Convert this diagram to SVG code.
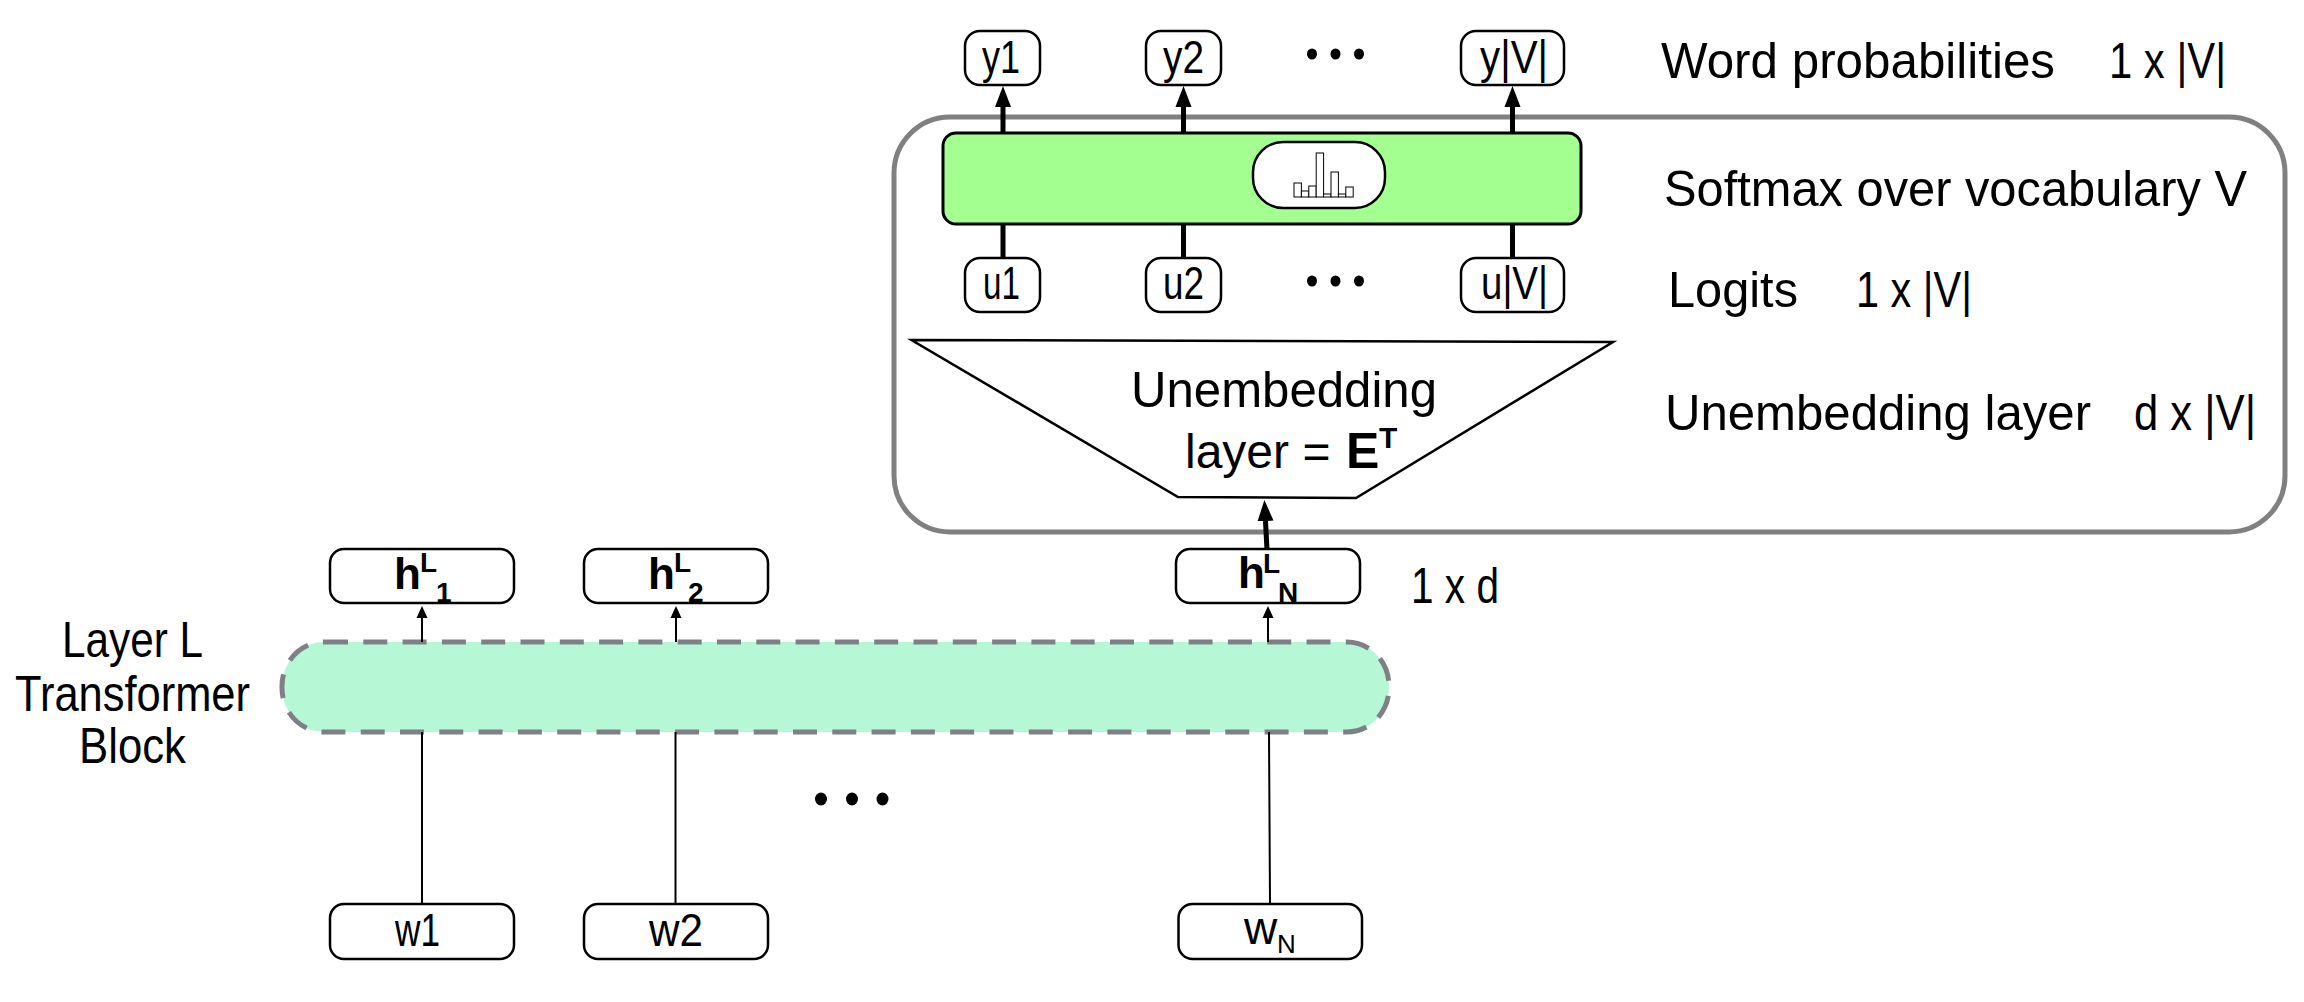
<svg xmlns="http://www.w3.org/2000/svg" width="2304" height="1002" viewBox="0 0 2304 1002">
<style>
text{font-family:"Liberation Sans",Arial,sans-serif;fill:#000;font-size:50px}
.b{fill:#fff;stroke:#000;stroke-width:2.5}
.bold{font-weight:bold}
.s{font-size:28px;font-weight:bold}
.box{font-size:46px}
.c{fill:none;stroke:#000;stroke-width:5}
.t{fill:none;stroke:#000;stroke-width:2}
.bar{fill:#fff;stroke:#000;stroke-width:1}
</style>
<defs>
<marker id="big" markerUnits="userSpaceOnUse" markerWidth="22" markerHeight="18" refX="0" refY="8" orient="auto" viewBox="0 0 22 16"><path d="M0,0L21,8L0,16z" fill="#000"/></marker>
<marker id="small" markerUnits="userSpaceOnUse" markerWidth="13" markerHeight="12" refX="0" refY="5.5" orient="auto" viewBox="0 0 13 11"><path d="M0,0L12,5.5L0,11z" fill="#000"/></marker>
</defs>
<rect width="2304" height="1002" fill="#fff"/>
<g id="softmax-group"><rect x="894" y="117" width="1391" height="415" rx="56" ry="56" fill="#fff" stroke="#808080" stroke-width="5"/></g>
<g id="layer-block"><rect x="282" y="642" width="1107" height="90" rx="42" ry="44" fill="#b6f8d6" stroke="#7f7f88" stroke-width="5" stroke-dasharray="24 15.3"/></g>
<g id="connectors">
<path class="c" d="M1003,133V107" marker-end="url(#big)"/>
<path class="c" d="M1183.500,133V107" marker-end="url(#big)"/>
<path class="c" d="M1512.500,133V107" marker-end="url(#big)"/>
<path class="c" d="M1003,224V258M1183.500,224V258M1512.500,224V258"/>
<path class="c" d="M1267,550L1265.500,521" marker-end="url(#big)"/>
<path class="t" d="M422,642V618" marker-end="url(#small)"/>
<path class="t" d="M676,642V618" marker-end="url(#small)"/>
<path class="t" d="M1268,642V618" marker-end="url(#small)"/>
<path class="t" d="M422,732V904M675.500,732V904M1269,732L1270,904"/>
</g>
<g id="softmax"><rect x="943" y="133" width="638" height="91" rx="13" fill="#a3ff8f" stroke="#000" stroke-width="3"/>
<rect x="1253" y="142" width="132" height="66" rx="30" fill="#fff" stroke="#000" stroke-width="2.5"/>
<rect class="bar" x="1294" y="183" width="7.400" height="14"/><rect class="bar" x="1301.400" y="191" width="7.400" height="6"/><rect class="bar" x="1308.800" y="186" width="7.400" height="11"/><rect class="bar" x="1316.200" y="153" width="7.400" height="44"/><rect class="bar" x="1323.600" y="194" width="7.400" height="3"/><rect class="bar" x="1331" y="172" width="7.400" height="25"/><rect class="bar" x="1338.400" y="194" width="7.400" height="3"/><rect class="bar" x="1345.800" y="187" width="7.400" height="10"/></g>
<g id="y1"><rect class="b" x="965" y="31" width="75" height="54" rx="15"/><text class="box" x="982" y="73" textLength="38" lengthAdjust="spacingAndGlyphs">y1</text></g>
<g id="y2"><rect class="b" x="1146" y="31" width="75" height="54" rx="15"/><text class="box" x="1163" y="73" textLength="41" lengthAdjust="spacingAndGlyphs">y2</text></g>
<g id="yV"><rect class="b" x="1461" y="31" width="103" height="54" rx="15"/><text class="box" x="1480" y="73" textLength="68" lengthAdjust="spacingAndGlyphs">y|V|</text></g>
<g id="u1"><rect class="b" x="965" y="258" width="75" height="54" rx="15"/><text class="box" x="983" y="299" textLength="37" lengthAdjust="spacingAndGlyphs">u1</text></g>
<g id="u2"><rect class="b" x="1146" y="258" width="75" height="54" rx="15"/><text class="box" x="1163" y="299" textLength="41" lengthAdjust="spacingAndGlyphs">u2</text></g>
<g id="uV"><rect class="b" x="1461" y="258" width="103" height="54" rx="15"/><text class="box" x="1481" y="299" textLength="67" lengthAdjust="spacingAndGlyphs">u|V|</text></g>
<g id="dots-y" fill="#000"><ellipse cx="1312" cy="54" rx="5" ry="5.500"/><ellipse cx="1335.500" cy="54" rx="5" ry="5.500"/><ellipse cx="1359" cy="54" rx="5" ry="5.500"/></g>
<g id="dots-u" fill="#000"><ellipse cx="1312" cy="281" rx="5" ry="5.500"/><ellipse cx="1335.500" cy="281" rx="5" ry="5.500"/><ellipse cx="1359" cy="281" rx="5" ry="5.500"/></g>
<g id="dots-w" fill="#000"><ellipse cx="821" cy="799" rx="6" ry="6.500"/><ellipse cx="852" cy="799" rx="6" ry="6.500"/><ellipse cx="882.500" cy="799" rx="6" ry="6.500"/></g>
<g id="unembedding"><path d="M911.500,340L1613,342L1356,498L1178,497z" fill="#fff" stroke="#000" stroke-width="2.500"/>
<text x="1131" y="407" textLength="306" lengthAdjust="spacingAndGlyphs">Unembedding</text>
<text y="468" font-size="48" style="font-size:48px"><tspan x="1185">layer = </tspan><tspan x="1346" class="bold" style="font-size:50px">E</tspan><tspan x="1379" y="448" class="s" style="font-size:30px">T</tspan></text></g>
<g id="h1"><rect class="b" x="330" y="549" width="184" height="54" rx="14"/><text class="bold"><tspan x="394" y="589" style="font-size:44px">h</tspan><tspan x="420" y="572" class="s">L</tspan><tspan x="436" y="602" class="s">1</tspan></text></g>
<g id="h2"><rect class="b" x="584" y="549" width="184" height="54" rx="14"/><text class="bold"><tspan x="648" y="589" style="font-size:44px">h</tspan><tspan x="674" y="572" class="s">L</tspan><tspan x="688" y="602" class="s">2</tspan></text></g>
<g id="hN"><rect class="b" x="1176" y="549" width="184" height="54" rx="14"/><text class="bold"><tspan x="1238" y="588" style="font-size:44px">h</tspan><tspan x="1263" y="573" class="s">L</tspan><tspan x="1278" y="602" class="s">N</tspan></text></g>
<g id="w1"><rect class="b" x="330" y="904" width="184" height="55" rx="14"/><text class="box" x="395" y="946" textLength="45" lengthAdjust="spacingAndGlyphs">w1</text></g>
<g id="w2"><rect class="b" x="584" y="904" width="184" height="55" rx="14"/><text class="box" x="649" y="946" textLength="54" lengthAdjust="spacingAndGlyphs">w2</text></g>
<g id="wN"><rect class="b" x="1178.500" y="904" width="183.500" height="55" rx="14"/><text class="box"><tspan x="1244" y="944">w</tspan><tspan x="1277" y="953" style="font-size:26px">N</tspan></text></g>
<g id="labels">
<text x="1661" y="78" textLength="394" lengthAdjust="spacingAndGlyphs">Word probabilities</text>
<text x="2109" y="78" textLength="117" lengthAdjust="spacingAndGlyphs">1 x |V|</text>
<text x="1664" y="206" textLength="583" lengthAdjust="spacingAndGlyphs">Softmax over vocabulary V</text>
<text x="1668" y="307" textLength="130" lengthAdjust="spacingAndGlyphs">Logits</text>
<text x="1856" y="307" textLength="116" lengthAdjust="spacingAndGlyphs">1 x |V|</text>
<text x="1665" y="430" textLength="426" lengthAdjust="spacingAndGlyphs">Unembedding layer</text>
<text x="2134" y="430" textLength="122" lengthAdjust="spacingAndGlyphs">d x |V|</text>
<text x="1411" y="603" textLength="88" lengthAdjust="spacingAndGlyphs">1 x d</text>
<text x="62" y="657" textLength="141" lengthAdjust="spacingAndGlyphs">Layer L</text>
<text x="15" y="711" textLength="235" lengthAdjust="spacingAndGlyphs">Transformer</text>
<text x="79" y="763" textLength="107" lengthAdjust="spacingAndGlyphs">Block</text>
</g>
</svg>
